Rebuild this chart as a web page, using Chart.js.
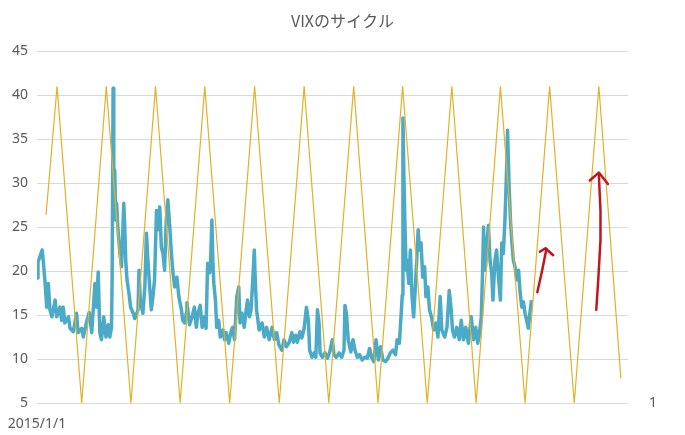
<!DOCTYPE html>
<html>
<head>
<meta charset="utf-8">
<script src="https://cdn.jsdelivr.net/npm/chart.js@4"></script>
<style>
  html, body { margin: 0; padding: 0; background: #fff; }
  #wrap { width: 685px; height: 435px; }
</style>
</head>
<body>
<div id="wrap"><canvas id="vixChart"></canvas></div>
<script>
// days counted from 2015/1/1
const vixDays = [0, 3, 16, 20, 25, 30, 35, 40, 46, 56, 61, 71, 76, 81, 86, 97, 102, 112, 122, 127,
    138, 143, 153, 161, 169, 179, 184, 189, 194, 199, 206, 213, 220, 225, 230, 232, 235,
    237, 240, 243, 246, 250, 256, 261, 268, 271, 274, 278, 284, 289, 297, 302, 312, 315, 319,
    327, 333, 338, 343, 348, 353, 358, 363, 369, 374, 379, 384, 389, 394, 399, 404, 410, 415,
    420, 425, 432, 438, 446, 450, 456, 461, 463, 471, 479, 486, 492, 497, 504, 510, 517, 522,
    527, 533, 536, 540, 543, 546, 551, 555, 561, 566, 574, 579, 584, 592, 599, 604, 610, 617,
    623, 627, 633, 640, 646, 650, 656, 661, 666, 671, 674, 678, 686, 695, 702, 709, 717, 726,
    733, 740, 747, 756, 763, 770, 779, 787, 792, 799, 804, 812, 818, 825, 832, 838, 842, 849,
    856, 861, 866, 871, 874, 881, 889, 897, 904, 912, 917, 924, 933, 941, 948, 951, 956, 961,
    969, 976, 982, 989, 996, 1004, 1012, 1020, 1027, 1033, 1040, 1047, 1054, 1061, 1068, 1076,
    1084, 1091, 1099, 1107, 1112, 1119, 1124, 1128, 1130, 1133, 1136, 1140, 1143, 1148, 1153,
    1158, 1163, 1169, 1177, 1181, 1186, 1191, 1197, 1201, 1207, 1212, 1218, 1225, 1232, 1238,
    1245, 1250, 1259, 1266, 1273, 1279, 1283, 1289, 1296, 1304, 1310, 1317, 1324, 1332, 1341,
    1348, 1355, 1361, 1365, 1372, 1376, 1379, 1384, 1389, 1394, 1399, 1404, 1408, 1414, 1419,
    1425, 1431, 1435, 1440, 1445, 1450, 1453, 1458, 1462, 1466, 1471, 1476, 1481, 1487, 1492,
    1497, 1502, 1507, 1512, 1517, 1522, 1527];
const vixValues = [19.2, 21.0, 22.4, 20.9, 18.6, 15.9, 18.6, 15.6, 14.8, 16.7, 14.8, 15.9, 14.4, 15.9, 14.1, 14.8, 13.5, 13.1, 15.2, 13.0,
    13.5, 12.5, 14.2, 15.3, 13.0, 18.6, 15.9, 19.9, 13.0, 12.2, 14.8, 12.5, 13.9, 12.5, 13.6, 19.1, 40.8,
    26.6, 31.5, 25.8, 27.7, 24.7, 22.0, 20.5, 27.7, 25.0, 21.2, 19.0, 17.5, 15.9, 15.2, 14.6, 15.6, 20.1, 16.7,
    15.2, 18.2, 24.3, 20.9, 18.2, 15.6, 17.1, 19.0, 26.9, 24.7, 27.3, 22.7, 22.0, 20.1, 25.8, 28.1, 25.0, 22.0,
    19.8, 18.2, 19.3, 17.1, 15.6, 14.4, 14.1, 15.2, 16.4, 13.9, 14.8, 15.9, 13.6, 15.2, 16.1, 13.6, 14.8, 13.5,
    20.9, 19.8, 21.0, 25.8, 21.2, 18.6, 16.7, 13.6, 14.4, 12.5, 13.3, 12.2, 13.0, 11.8, 13.1, 13.6, 12.2, 17.1,
    18.2, 14.1, 15.2, 13.6, 15.6, 16.7, 14.8, 15.6, 18.8, 22.4, 19.0, 15.6, 13.3, 14.1, 12.5, 13.6, 12.2, 13.6,
    12.2, 13.0, 11.6, 11.0, 12.2, 11.4, 11.9, 13.0, 11.9, 12.7, 11.9, 13.1, 12.4, 13.5, 15.9, 14.4, 11.0, 10.2,
    10.7, 10.2, 15.6, 14.1, 10.7, 10.2, 10.7, 10.1, 10.8, 12.2, 10.5, 10.2, 10.7, 10.2, 11.0, 16.1, 15.0, 12.2,
    10.8, 12.2, 11.0, 10.2, 10.5, 9.9, 10.2, 10.1, 11.2, 10.2, 9.7, 12.2, 9.9, 11.4, 9.9, 9.7,
    10.1, 10.7, 11.0, 10.5, 12.2, 11.8, 14.8, 17.3, 37.4, 30.7, 25.5, 20.1, 21.2, 18.6, 22.4,
    17.1, 14.8, 18.6, 24.7, 22.4, 23.2, 19.3, 20.5, 17.1, 18.2, 15.6, 14.8, 13.3, 14.1, 12.5,
    17.1, 13.3, 12.5, 13.6, 17.8, 15.6, 13.3, 12.5, 13.6, 12.2, 14.4, 12.2, 13.6, 11.8, 14.8,
    12.2, 13.6, 11.8, 12.5, 14.8, 20.1, 25.0, 20.1, 22.7, 25.2, 21.2, 19.8, 16.7, 21.2, 22.4,
    19.3, 16.7, 23.2, 22.0, 25.8, 31.5, 36.0, 29.5, 25.8, 23.5, 21.2, 20.5, 19.0, 20.1, 17.5,
    15.9, 16.5, 15.2, 14.4, 13.5, 15.2, 16.7];

// cycle line: turning points
const cycleDays = [28, 62, 138, 214, 290, 366, 442, 518, 595, 672, 748, 825, 901, 978, 1053,
    1129, 1205, 1281, 1356, 1431, 1507, 1583, 1659, 1735, 1803];
const cycleValues = [26.4, 41, 5, 41, 5, 41, 5, 41, 5, 41, 5, 41, 5, 41, 5,
    41, 5, 41, 5, 41, 5, 41, 5, 41, 7.8];

// hand drawn arrows
const arrow1Days = [1545, 1560, 1573];
const arrow1Values = [17.6, 20.1, 22.5];
const arrow1HeadDays = [1553, 1570, 1594];
const arrow1HeadValues = [22.2, 22.6, 21.8];
const arrow2Days = [1727, 1733, 1740, 1740, 1735];
const arrow2Values = [15.6, 18.9, 23.5, 26.9, 30.9];
const arrow2HeadDays = [1707, 1735, 1763];
const arrow2HeadValues = [30.3, 31.2, 29.9];

const yTicks = [5, 10, 15, 20, 25, 30, 35, 40, 45];
const xLabel = '2015/1/1';
const rightLabel = '1';

function toPoints(xs, ys) {
    return xs.map((x, i) => ({ x: x, y: ys[i] }));
}

function arrowSet(xs, ys) {
    return {
        data: toPoints(xs, ys),
        borderColor: '#C0161C',
        borderWidth: 2.5,
        pointRadius: 0,
        tension: 0,
        borderCapStyle: 'round',
        borderJoinStyle: 'round'
    };
}

const tickFont = { family: "'Noto Sans', sans-serif", size: 14 };

const ctx = document.getElementById('vixChart').getContext('2d');
new Chart(ctx, {
    type: 'line',
    data: {
        datasets: [
            arrowSet(arrow1Days, arrow1Values),
            arrowSet(arrow1HeadDays, arrow1HeadValues),
            arrowSet(arrow2Days, arrow2Values),
            arrowSet(arrow2HeadDays, arrow2HeadValues),
            {
                data: toPoints(cycleDays, cycleValues),
                borderColor: '#E3B02A',
                borderWidth: 1.2,
                pointRadius: 0,
                tension: 0
            },
            {
                data: toPoints(vixDays, vixValues),
                borderColor: '#4BAAC6',
                borderWidth: 3.5,
                pointRadius: 0,
                tension: 0,
                borderJoinStyle: 'round'
            }
        ]
    },
    options: {
        responsive: true,
        maintainAspectRatio: false,
        animation: false,
        layout: { padding: { left: 0, right: 0, top: 0, bottom: 0 } },
        plugins: {
            legend: { display: false },
            tooltip: { enabled: false },
            title: {
                display: true,
                text: 'VIXのサイクル',
                color: '#595959',
                font: { family: "'Noto Sans CJK JP', sans-serif", size: 16, weight: 'normal' },
                padding: { top: 11, bottom: 21 }
            }
        },
        scales: {
            x: {
                type: 'linear',
                min: 0,
                max: 1825,
                grid: { display: false },
                border: { display: false },
                afterBuildTicks: scale => { scale.ticks = [{ value: 0 }]; },
                afterFit: scale => { scale.height = 32; },
                ticks: {
                    color: '#595959',
                    font: tickFont,
                    padding: 5,
                    maxRotation: 0,
                    callback: v => v === 0 ? xLabel : ''
                }
            },
            y: {
                min: 5,
                max: 45,
                afterBuildTicks: scale => { scale.ticks = yTicks.map(v => ({ value: v })); },
                afterFit: scale => { scale.width = 37; },
                grid: { color: '#D9D9D9', lineWidth: 1, drawTicks: false },
                border: { display: false },
                ticks: { color: '#595959', font: tickFont, padding: 9 }
            },
            y2: {
                position: 'right',
                min: 1,
                max: 2,
                afterBuildTicks: scale => { scale.ticks = [{ value: 1 }]; },
                afterFit: scale => { scale.width = 57; },
                grid: { display: false },
                border: { display: false },
                ticks: {
                    color: '#595959',
                    font: tickFont,
                    padding: 13,
                    callback: () => rightLabel
                }
            }
        }
    }
});
</script>
</body>
</html>
